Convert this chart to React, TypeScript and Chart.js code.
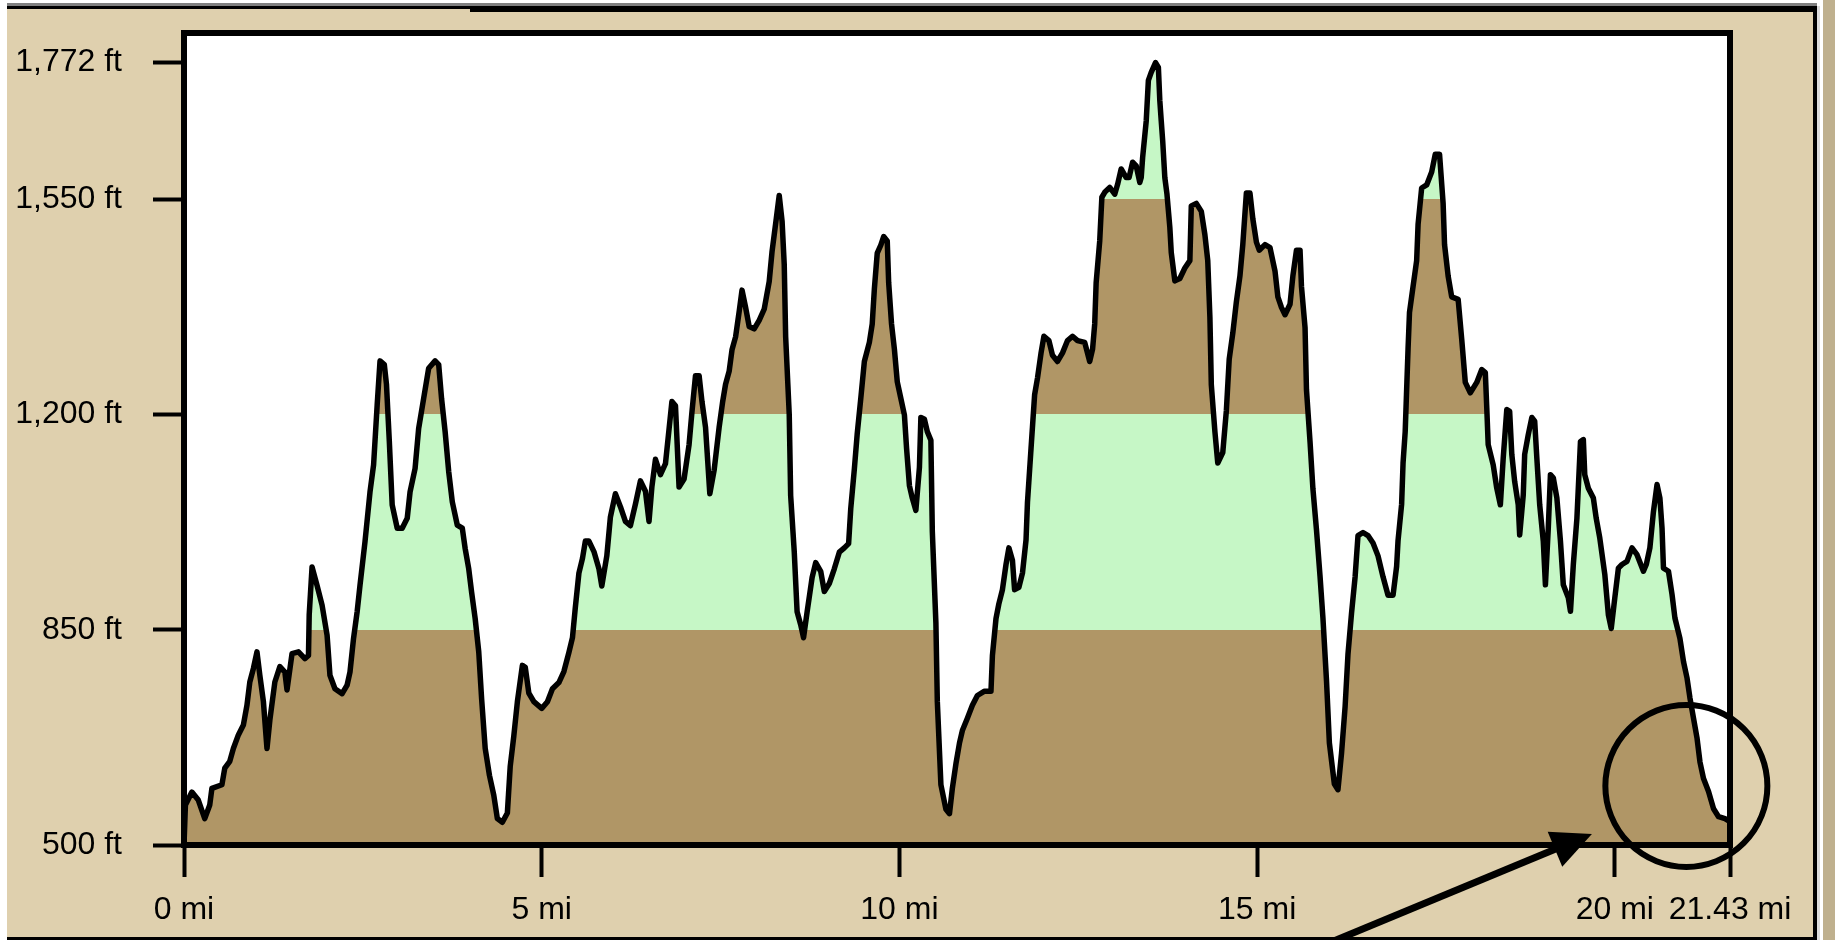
import React, { useEffect, useRef } from "react";
import { Chart, registerables } from "chart.js";

Chart.register(...registerables);

// ---- Data ----
const distanceMi = [
  0.0, 0.02, 0.11, 0.2, 0.29, 0.36, 0.39, 0.53, 0.57, 0.64, 0.69, 0.76, 0.83, 0.88, 0.92, 0.97,
  1.02, 1.06, 1.11, 1.16, 1.2, 1.27, 1.34, 1.41, 1.44, 1.51, 1.6, 1.69, 1.74, 1.75, 1.79, 1.86,
  1.93, 2.0, 2.04, 2.11, 2.21, 2.28, 2.32, 2.37, 2.42, 2.46, 2.53, 2.6, 2.65, 2.7, 2.74, 2.8,
  2.83, 2.87, 2.91, 2.98, 3.05, 3.12, 3.16, 3.23, 3.28, 3.35, 3.42, 3.51, 3.56, 3.6, 3.65, 3.7,
  3.75, 3.82, 3.89, 3.93, 3.98, 4.02, 4.07, 4.12, 4.16, 4.21, 4.27, 4.33, 4.38, 4.45, 4.52, 4.56,
  4.61, 4.66, 4.73, 4.77, 4.82, 4.89, 5.0, 5.08, 5.15, 5.24, 5.31, 5.38, 5.43, 5.47, 5.52, 5.57,
  5.61, 5.66, 5.73, 5.8, 5.84, 5.91, 5.96, 6.03, 6.1, 6.17, 6.24, 6.31, 6.38, 6.45, 6.5, 6.54,
  6.59, 6.66, 6.73, 6.77, 6.82, 6.87, 6.92, 6.99, 7.06, 7.1, 7.15, 7.2, 7.24, 7.29, 7.35, 7.41,
  7.48, 7.53, 7.57, 7.62, 7.66, 7.71, 7.76, 7.8, 7.85, 7.9, 7.97, 8.04, 8.11, 8.18, 8.22, 8.27,
  8.32, 8.36, 8.39, 8.41, 8.46, 8.48, 8.53, 8.57, 8.62, 8.66, 8.71, 8.78, 8.83, 8.9, 8.95, 9.02,
  9.09, 9.16, 9.23, 9.29, 9.32, 9.37, 9.41, 9.46, 9.51, 9.58, 9.62, 9.65, 9.69, 9.74, 9.78, 9.83,
  9.85, 9.89, 9.93, 9.97, 10.02, 10.07, 10.1, 10.14, 10.18, 10.23, 10.28, 10.3, 10.35, 10.39, 10.44, 10.46,
  10.51, 10.53, 10.58, 10.65, 10.7, 10.74, 10.79, 10.84, 10.88, 10.95, 11.02, 11.09, 11.19, 11.28, 11.3, 11.35,
  11.39, 11.44, 11.49, 11.53, 11.58, 11.61, 11.67, 11.72, 11.77, 11.79, 11.84, 11.89, 11.93, 11.98, 12.02, 12.09,
  12.14, 12.21, 12.28, 12.35, 12.42, 12.49, 12.59, 12.66, 12.7, 12.73, 12.75, 12.8, 12.83, 12.87, 12.94, 13.01,
  13.05, 13.1, 13.17, 13.21, 13.26, 13.31, 13.36, 13.38, 13.4, 13.45, 13.48, 13.52, 13.58, 13.62, 13.64, 13.66,
  13.68, 13.71, 13.74, 13.78, 13.8, 13.85, 13.92, 13.99, 14.06, 14.08, 14.15, 14.22, 14.27, 14.31, 14.34, 14.36,
  14.41, 14.45, 14.52, 14.57, 14.61, 14.66, 14.71, 14.76, 14.8, 14.85, 14.9, 14.94, 14.99, 15.03, 15.11, 15.18,
  15.25, 15.29, 15.34, 15.39, 15.46, 15.5, 15.55, 15.6, 15.62, 15.67, 15.69, 15.74, 15.78, 15.83, 15.88, 15.92,
  15.97, 16.01, 16.08, 16.13, 16.18, 16.23, 16.27, 16.32, 16.37, 16.41, 16.48, 16.55, 16.62, 16.69, 16.76, 16.83,
  16.9, 16.95, 16.97, 17.02, 17.04, 17.07, 17.09, 17.11, 17.13, 17.18, 17.23, 17.25, 17.3, 17.37, 17.44, 17.49,
  17.55, 17.6, 17.62, 17.67, 17.72, 17.81, 17.86, 17.91, 17.98, 18.07, 18.14, 18.19, 18.21, 18.23, 18.3, 18.35,
  18.4, 18.44, 18.49, 18.53, 18.56, 18.6, 18.65, 18.67, 18.72, 18.74, 18.79, 18.84, 18.88, 18.91, 18.95, 19.0,
  19.03, 19.07, 19.1, 19.14, 19.19, 19.24, 19.28, 19.35, 19.38, 19.42, 19.47, 19.52, 19.56, 19.58, 19.63, 19.7,
  19.74, 19.79, 19.86, 19.91, 19.95, 20.0, 20.05, 20.1, 20.17, 20.24, 20.31, 20.4, 20.44, 20.49, 20.54, 20.59,
  20.63, 20.66, 20.68, 20.75, 20.8, 20.84, 20.91, 20.96, 21.01, 21.05, 21.1, 21.15, 21.19, 21.24, 21.31, 21.38,
  21.45, 21.54, 21.61,
];

const elevationFt = [
  500, 565, 586, 573, 543, 565, 592, 598, 625, 636, 657, 679, 695, 727, 765, 787,
  814, 776, 733, 657, 703, 765, 790, 781, 752, 811, 814, 803, 808, 874, 952, 922,
  890, 841, 776, 754, 746, 760, 781, 836, 879, 922, 993, 1074, 1118, 1215, 1287, 1281,
  1249, 1156, 1053, 1015, 1015, 1031, 1074, 1112, 1177, 1226, 1275, 1287, 1281, 1226, 1172, 1107,
  1058, 1020, 1015, 982, 949, 911, 868, 814, 738, 657, 613, 581, 543, 537, 552, 628,
  677, 733, 792, 789, 747, 733, 722, 733, 754, 764, 782, 813, 837, 886, 942, 966,
  994, 994, 977, 949, 921, 970, 1033, 1071, 1050, 1026, 1019, 1054, 1092, 1075, 1026, 1082,
  1127, 1102, 1120, 1165, 1221, 1214, 1082, 1095, 1151, 1204, 1263, 1263, 1221, 1179, 1071, 1109,
  1179, 1221, 1249, 1270, 1305, 1326, 1367, 1402, 1374, 1343, 1339, 1353, 1371, 1416, 1465, 1510,
  1556, 1514, 1444, 1326, 1200, 1068, 977, 879, 858, 837, 879, 935, 959, 945, 912, 925,
  949, 976, 983, 990, 1047, 1111, 1168, 1226, 1286, 1317, 1347, 1404, 1462, 1475, 1489, 1482,
  1414, 1347, 1306, 1253, 1226, 1199, 1145, 1084, 1064, 1044, 1114, 1195, 1192, 1172, 1158, 1010,
  861, 733, 598, 558, 551, 592, 632, 666, 686, 706, 727, 743, 750, 750, 808, 868,
  892, 915, 956, 983, 963, 915, 919, 942, 996, 1057, 1145, 1232, 1259, 1300, 1327, 1320,
  1296, 1286, 1300, 1320, 1327, 1320, 1317, 1286, 1306, 1347, 1414, 1482, 1553, 1561, 1569, 1558,
  1574, 1599, 1585, 1585, 1610, 1604, 1577, 1585, 1618, 1677, 1743, 1756, 1772, 1764, 1710, 1677,
  1645, 1585, 1558, 1504, 1463, 1417, 1421, 1438, 1450, 1539, 1543, 1530, 1492, 1450, 1358, 1248,
  1172, 1121, 1138, 1206, 1290, 1332, 1383, 1425, 1476, 1560, 1560, 1518, 1480, 1467, 1476, 1471,
  1433, 1391, 1374, 1362, 1379, 1425, 1467, 1467, 1408, 1341, 1240, 1155, 1079, 1012, 936, 869,
  767, 666, 599, 590, 649, 725, 810, 877, 936, 1003, 1008, 1003, 991, 970, 936, 906,
  906, 953, 995, 1054, 1121, 1172, 1240, 1307, 1366, 1408, 1450, 1509, 1568, 1573, 1594, 1623,
  1623, 1543, 1476, 1425, 1391, 1387, 1322, 1252, 1235, 1252, 1273, 1268, 1211, 1151, 1118, 1080,
  1053, 1129, 1208, 1205, 1135, 1091, 1053, 1004, 1069, 1135, 1167, 1195, 1189, 1129, 1053, 994,
  923, 1015, 1102, 1097, 1064, 994, 923, 902, 880, 956, 1031, 1156, 1159, 1102, 1080, 1064,
  1031, 999, 940, 874, 852, 902, 950, 956, 961, 983, 972, 945, 956, 983, 1042, 1086,
  1064, 1015, 950, 945, 907, 869, 836, 798, 771, 739, 706, 673, 635, 608, 587, 559,
  546, 543, 538,
];

const yTickValues = [500, 850, 1200, 1550, 1772];
const xTickValues = [0, 5, 10, 15, 20, 21.61];
const xTickLabels = ["0 mi", "5 mi", "10 mi", "15 mi", "20 mi", "21.43 mi"];
const bandEdgesFt = [850, 1200, 1550];
const X_MIN = 0;
const X_MAX = 21.61;
const Y_MIN = 500;
const Y_MAX = 1820;

// annotation anchors (data space)
const circleCenter = { mi: 21.0, ft: 596 };
const arrowFrom = { mi: 15.72, ft: 327 };
const arrowTo = { mi: 19.68, ft: 518 };

// ---- Styles ----
const BROWN = "#B09666";
const GREEN = "#C6F7C6";
const TAN = "#DFD0AE";
const FONT = "'Liberation Sans', Arial, sans-serif";

const framePlugin = {
  id: "framePlugin",
  beforeDraw(chart: any) {
    const { ctx, chartArea } = chart;
    if (!chartArea) return;
    ctx.save();
    ctx.fillStyle = "#FFFFFF";
    ctx.fillRect(chartArea.left, chartArea.top, chartArea.right - chartArea.left, chartArea.bottom - chartArea.top);
    ctx.restore();
  },
  afterDraw(chart: any) {
    const { ctx, chartArea, scales } = chart;
    if (!chartArea) return;
    const xs = scales.x;
    const ys = scales.y;
    ctx.save();
    // plot box border
    ctx.strokeStyle = "#000";
    ctx.lineWidth = 6;
    ctx.lineJoin = "miter";
    ctx.strokeRect(chartArea.left, chartArea.top, chartArea.right - chartArea.left, chartArea.bottom - chartArea.top);

    // circle annotation
    const cx = xs.getPixelForValue(circleCenter.mi);
    const cy = ys.getPixelForValue(circleCenter.ft);
    ctx.lineWidth = 6;
    ctx.beginPath();
    ctx.arc(cx, cy, 81, 0, Math.PI * 2);
    ctx.stroke();

    // arrow annotation
    const x1 = xs.getPixelForValue(arrowFrom.mi);
    const y1 = ys.getPixelForValue(arrowFrom.ft);
    const x2 = xs.getPixelForValue(arrowTo.mi);
    const y2 = ys.getPixelForValue(arrowTo.ft);
    const ang = Math.atan2(y2 - y1, x2 - x1);
    const headLen = 40;
    const headHalf = 19;
    const bx = x2 - headLen * Math.cos(ang);
    const by = y2 - headLen * Math.sin(ang);
    ctx.lineWidth = 7;
    ctx.lineCap = "butt";
    ctx.beginPath();
    ctx.moveTo(x1, y1);
    ctx.lineTo(bx + 2 * Math.cos(ang), by + 2 * Math.sin(ang));
    ctx.stroke();
    ctx.fillStyle = "#000";
    ctx.beginPath();
    ctx.moveTo(x2, y2);
    ctx.lineTo(bx - headHalf * Math.sin(ang), by + headHalf * Math.cos(ang));
    ctx.lineTo(bx + headHalf * Math.sin(ang), by - headHalf * Math.cos(ang));
    ctx.closePath();
    ctx.fill();
    ctx.restore();
  },
};

export default function App() {
  const canvasRef = useRef<HTMLCanvasElement | null>(null);

  useEffect(() => {
    if (!canvasRef.current) return;
    const points = distanceMi.map((d, i) => ({ x: d, y: elevationFt[i] }));

    const chart = new Chart(canvasRef.current, {
      type: "line",
      data: {
        datasets: [
          {
            data: points,
            borderColor: "#000",
            borderWidth: 5.5,
            borderJoinStyle: "round",
            pointRadius: 0,
            tension: 0,
            fill: "start",
            backgroundColor: (ctx: any) => {
              const c = ctx.chart;
              const area = c.chartArea;
              if (!area) return BROWN;
              const ys = c.scales.y;
              const h = area.bottom - area.top;
              const f = (v: number) => Math.min(1, Math.max(0, (area.bottom - ys.getPixelForValue(v)) / h));
              const g = c.ctx.createLinearGradient(0, area.bottom, 0, area.top);
              const colors = [BROWN, GREEN, BROWN, GREEN];
              let prev = 0;
              bandEdgesFt.forEach((edge, i) => {
                const p = f(edge);
                g.addColorStop(prev, colors[i]);
                g.addColorStop(p, colors[i]);
                prev = p;
              });
              g.addColorStop(prev, colors[bandEdgesFt.length]);
              g.addColorStop(1, colors[bandEdgesFt.length]);
              return g;
            },
          } as any,
        ],
      },
      options: {
        animation: false,
        responsive: false,
        devicePixelRatio: 1,
        layout: { padding: { left: 0, top: 33, right: 105, bottom: 0 } },
        plugins: {
          legend: { display: false },
          title: { display: false },
          tooltip: { enabled: false },
        },
        scales: {
          x: {
            type: "linear",
            min: X_MIN,
            max: X_MAX,
            afterBuildTicks: (scale: any) => {
              scale.ticks = xTickValues.map((v) => ({ value: v }));
            },
            afterFit: (scale: any) => {
              scale.height = 95;
              scale.paddingLeft = 0;
              scale.paddingRight = 0;
            },
            grid: {
              display: true,
              drawOnChartArea: false,
              drawTicks: true,
              tickLength: 32,
              tickWidth: 4,
              tickColor: "#000",
            },
            border: { display: false },
            ticks: {
              autoSkip: false,
              maxRotation: 0,
              minRotation: 0,
              padding: 14,
              color: "#000",
              font: { family: FONT, size: 32 },
              callback: (_v: any, i: number) => xTickLabels[i],
            },
          },
          y: {
            type: "linear",
            min: Y_MIN,
            max: Y_MAX,
            afterBuildTicks: (scale: any) => {
              scale.ticks = yTickValues.map((v) => ({ value: v }));
            },
            afterFit: (scale: any) => {
              scale.width = 184;
              scale.paddingTop = 0;
              scale.paddingBottom = 0;
            },
            grid: {
              display: true,
              drawOnChartArea: false,
              drawTicks: true,
              tickLength: 31,
              tickWidth: 4,
              tickColor: "#000",
            },
            border: { display: false },
            ticks: {
              autoSkip: false,
              padding: 31,
              color: "#000",
              font: { family: FONT, size: 32 },
              callback: (v: any) => `${Number(v).toLocaleString("en-US")} ft`,
            },
          },
        },
      } as any,
      plugins: [framePlugin],
    });
    return () => chart.destroy();
  }, []);

  const abs = (l: number, t: number, w: number, h: number, bg: string): React.CSSProperties => ({
    position: "absolute",
    left: l,
    top: t,
    width: w,
    height: h,
    background: bg,
  });

  return (
    <div style={{ position: "fixed", left: 0, top: 0, width: 1835, height: 940, background: "#fff", overflow: "hidden" }}>
      <div style={abs(7, 8, 1806, 930, TAN)} />
      <div style={abs(7, 3, 1810, 3, "#808080")} />
      <div style={abs(7, 6, 1810, 3, "#000")} />
      <div style={abs(470, 8, 1347, 4, "#000")} />
      <div style={abs(1813, 6, 4, 934, "#000")} />
      <div style={abs(1817, 6, 3, 934, "#DCDCDC")} />
      <div style={abs(1823, 0, 12, 940, "#BFB08E")} />
      <div style={abs(7, 937, 1810, 3, "#000")} />
      <canvas
        ref={canvasRef}
        width={1835}
        height={940}
        style={{ position: "absolute", left: 0, top: 0, width: 1835, height: 940 }}
      />
    </div>
  );
}
